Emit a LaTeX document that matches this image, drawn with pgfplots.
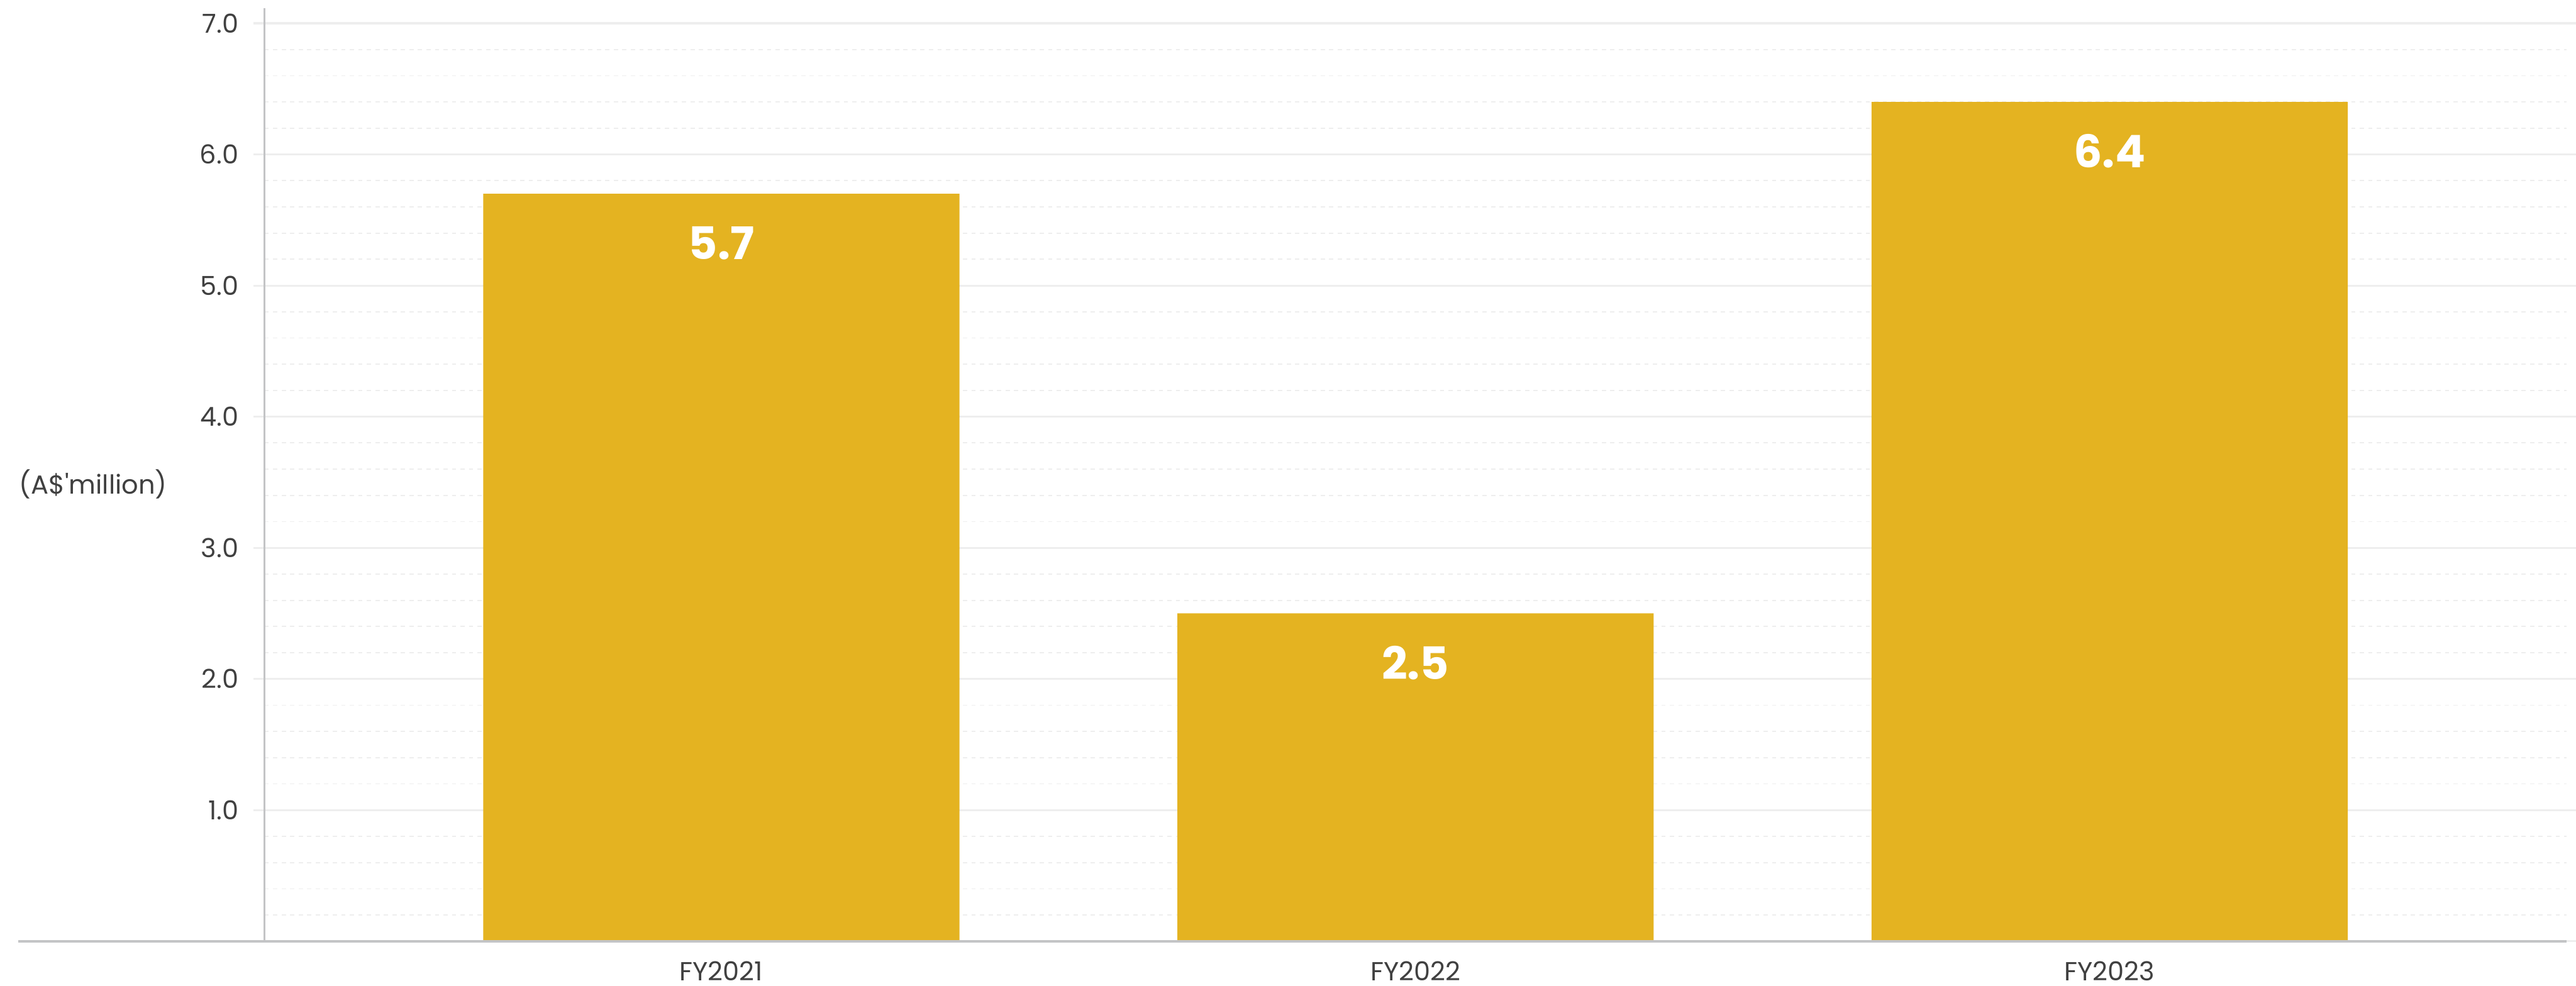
\documentclass[border=0pt]{standalone}
\usepackage{pgfplots}
\pgfplotsset{compat=1.18}
\usepackage{fontspec}
\setmainfont{Poppins}
\definecolor{barc}{HTML}{E4B321}
\definecolor{txt}{HTML}{404040}
\definecolor{gridc}{HTML}{EEEEEE}
\definecolor{axc}{HTML}{C3C4C6}
\begin{document}
\begin{tikzpicture}
\begin{axis}[
  scale only axis, width=810.8pt, height=328.8pt,
  xmin=-0.658, xmax=2.658, ymin=0, ymax=7.117,
  axis line style={draw=none},
  clip=false,
  ybar, bar width=0.686,
  xtick={0,1,2}, xticklabels={FY2021,FY2022,FY2023},
  ytick={0,1,2,3,4,5,6,7},
  yticklabels={{},1.0,2.0,3.0,4.0,5.0,6.0,7.0},
  minor y tick num=4,
  ymajorgrids, yminorgrids,
  major grid style={gridc, line width=0.7pt},
  minor grid style={gridc, line width=0.4pt, dash pattern=on 1.5pt off 1.5pt},
  tick align=outside,
  major tick length=4pt, minor tick length=0pt,
  ytick style={gridc, line width=0.7pt},
  xtick style={draw=none},
  tick label style={text=txt, font=\fontsize{9.2}{11}\selectfont, inner sep=0pt},
  yticklabel style={anchor=east, xshift=-5pt},
  xticklabel style={anchor=north, yshift=-3pt},
  point meta=explicit symbolic,
  nodes near coords={\pgfplotspointmeta},
  every node near coord/.append style={anchor=center, yshift=-17.4pt, text=white, font=\bfseries\fontsize{15.8}{18}\selectfont},
]
\addplot[fill=barc, draw=none] coordinates {(0,5.7) [5.7] (1,2.5) [2.5] (2,6.4) [6.4]};
\draw[axc, line width=0.6pt] (rel axis cs:0,0) -- (rel axis cs:0,1);
\draw[axc, line width=0.75pt] ([xshift=-86.8pt]rel axis cs:0,0) -- (rel axis cs:1,0);
\node[anchor=west, inner sep=0pt, text=txt, font=\fontsize{9.2}{11}\selectfont] at ([xshift=-86.6pt]rel axis cs:0,0.4897) {(A\$\textquotesingle million)};
\end{axis}
\pgfresetboundingbox
\path[use as bounding box] (-93.2pt,-15.6pt) rectangle (814.2pt,331.6pt);
\end{tikzpicture}
\end{document}
